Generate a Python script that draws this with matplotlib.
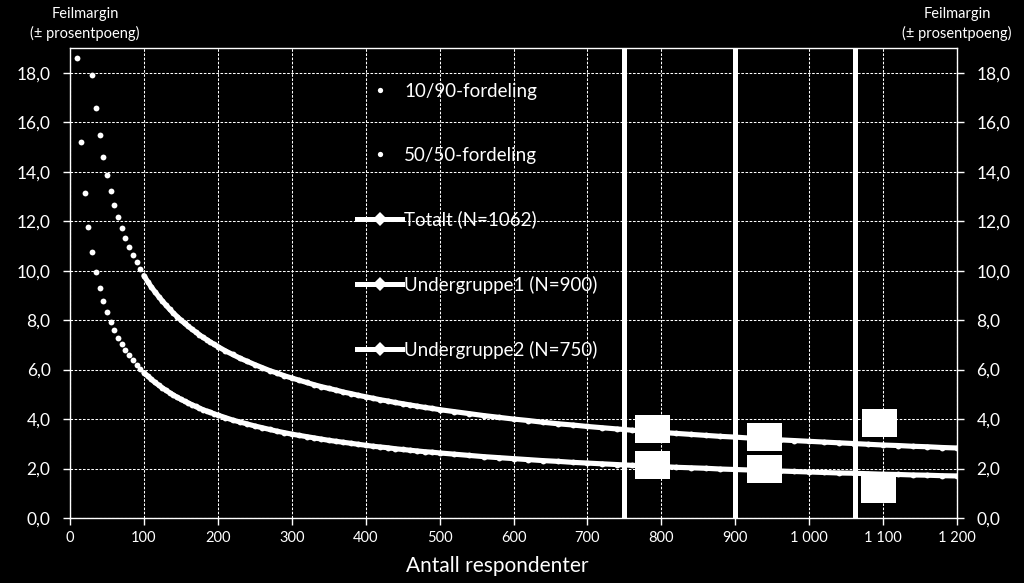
import matplotlib
matplotlib.use("Agg")
import matplotlib.pyplot as plt
from matplotlib.lines import Line2D
import numpy as np

# ---------------- data ----------------
respondents = [10, 15, 20, 25, 30, 35, 40, 45, 50, 55, 60, 65, 70, 75, 80, 85, 90, 95,
               100, 105, 110, 115, 120, 125, 130, 135, 140, 145, 150, 155, 160, 165,
               170, 175, 180, 185, 190, 195, 200,
               210, 220, 230, 240, 250, 260, 270, 280, 290, 300, 310, 320, 330, 340,
               350, 360, 370, 380, 390, 400, 410, 420, 430, 440, 450, 460, 470, 480,
               490, 500,
               520, 540, 560, 580, 600, 620, 640, 660, 680, 700, 720, 740, 760, 780,
               800, 820, 840, 860, 880, 900, 920, 940, 960, 980, 1000, 1020, 1040,
               1060, 1080, 1100, 1120, 1140, 1160, 1180, 1200]

margin_10_90 = [18.59, 15.18, 13.15, 11.76, 10.74, 9.94, 9.30, 8.77, 8.32, 7.93, 7.59,
                7.29, 7.03, 6.79, 6.57, 6.38, 6.20, 6.03, 5.88, 5.74, 5.61, 5.48, 5.37,
                5.26, 5.16, 5.06, 4.97, 4.88, 4.80, 4.72, 4.65, 4.58, 4.51, 4.44, 4.38,
                4.32, 4.27, 4.21, 4.16,
                4.06, 3.96, 3.88, 3.80, 3.72, 3.65, 3.58, 3.51, 3.45, 3.39, 3.34, 3.29,
                3.24, 3.19, 3.14, 3.10, 3.06, 3.02, 2.98, 2.94, 2.90, 2.87, 2.84, 2.80,
                2.77, 2.74, 2.71, 2.68, 2.66, 2.63,
                2.58, 2.53, 2.48, 2.44, 2.40, 2.36, 2.32, 2.29, 2.25, 2.22, 2.19, 2.16,
                2.13, 2.11, 2.08, 2.05, 2.03, 2.01, 1.98, 1.96, 1.94, 1.92, 1.90, 1.88,
                1.86, 1.84, 1.82, 1.81, 1.79, 1.77, 1.76, 1.74, 1.73, 1.71, 1.70]

nan = float("nan")
margin_50_50 = [nan, nan, nan, nan, 17.89, 16.57, 15.50, 14.61, 13.86, 13.21, 12.65,
                12.16, 11.71, 11.32, 10.96, 10.63, 10.33, 10.05, 9.80, 9.56, 9.34, 9.14,
                8.95, 8.77, 8.60, 8.43, 8.28, 8.14, 8.00, 7.87, 7.75, 7.63, 7.52, 7.41,
                7.30, 7.21, 7.11, 7.02, 6.93,
                6.76, 6.61, 6.46, 6.33, 6.20, 6.08, 5.96, 5.86, 5.75, 5.66, 5.57, 5.48,
                5.39, 5.31, 5.24, 5.17, 5.09, 5.03, 4.96, 4.90, 4.84, 4.78, 4.73, 4.67,
                4.62, 4.57, 4.52, 4.47, 4.43, 4.38,
                4.30, 4.22, 4.14, 4.07, 4.00, 3.94, 3.87, 3.81, 3.76, 3.70, 3.65, 3.60,
                3.55, 3.51, 3.46, 3.42, 3.38, 3.34, 3.30, 3.27, 3.23, 3.20, 3.16, 3.13,
                3.10, 3.07, 3.04, 3.01, 2.98, 2.95, 2.93, 2.90, 2.88, 2.85, 2.83]

series_names = ["10/90-fordeling", "50/50-fordeling"]
group_names = ["Totalt (N=1062)", "Undergruppe1 (N=900)", "Undergruppe2 (N=750)"]
group_sizes = [1062, 900, 750]

label_box_x_upper = [788, 939, 1095]
label_box_y_upper = [3.59, 3.27, 3.84]
label_box_x_lower = [788, 939, 1093]
label_box_y_lower = [2.14, 1.98, 1.18]

x_ticks = [0, 100, 200, 300, 400, 500, 600, 700, 800, 900, 1000, 1100, 1200]
y_ticks = [0, 2, 4, 6, 8, 10, 12, 14, 16, 18]
x_label = "Antall respondenter"
y_label = "Feilmargin\n(± prosentpoeng)"

# ---------------- style ----------------
FONT = ["Lato", "DejaVu Sans"]
plt.rcParams["font.family"] = FONT
W = "white"

fig = plt.figure(figsize=(10.24, 5.83), dpi=100, facecolor="black")
ax = fig.add_axes([70 / 1024, 65 / 583, 887 / 1024, 470 / 583], facecolor="black")

n = np.array(respondents, dtype=float)
grid_ls = (0, (2.5, 1.5))

# gridlines
ax.set_axisbelow(True)
ax.grid(True, color=W, linestyle=grid_ls, linewidth=0.75)

# curves
for vals in (margin_10_90, margin_50_50):
    y = np.array(vals, dtype=float)
    dense = n >= 100
    ax.plot(n[dense], y[dense], "-", color=W, lw=3.7, solid_capstyle="round",
            solid_joinstyle="round", zorder=3)
    ax.plot(n, y, "o", color=W, ms=4.2, markeredgewidth=0, zorder=3)

# vertical group lines
for g in group_sizes:
    ax.axvline(g, color=W, lw=3.6, zorder=4)

# label boxes
box = [(-1.25, -1), (1.25, -1), (1.25, 1), (-1.25, 1), (-1.25, -1)]
ax.plot(label_box_x_upper, label_box_y_upper, ls="none", marker=box, ms=25.2,
        color=W, markeredgewidth=0, zorder=5)
ax.plot(label_box_x_lower, label_box_y_lower, ls="none", marker=box, ms=25.2,
        color=W, markeredgewidth=0, zorder=5)

ax.set_xlim(0, 1200)
ax.set_ylim(0, 19)
ax.set_xticks(x_ticks)
ax.set_yticks(y_ticks)
ax.set_xticklabels([f"{v:,}".replace(",", " ") for v in x_ticks])
ax.set_yticklabels([f"{v:.1f}".replace(".", ",") for v in y_ticks])

for s in ax.spines.values():
    s.set_color(W)
    s.set_linewidth(1.0)

ax.tick_params(axis="x", colors=W, labelsize=10.5, length=5, width=1, pad=4,
               direction="out")
ax.tick_params(axis="y", colors=W, labelsize=12.5, length=5, width=1, pad=9,
               direction="out", right=True, labelright=True)

# axis titles
fig.text(497 / 1024, 1 - 566 / 583, x_label, color=W, fontsize=15,
         ha="center", va="center")
for cx in (85, 957):
    fig.text(cx / 1024, 1 - 24 / 583, y_label, color=W, fontsize=10.5,
             ha="center", va="center", linespacing=1.35)

# legend
handles = [
    Line2D([], [], ls="none", marker="o", ms=3.8, color=W, markeredgewidth=0),
    Line2D([], [], ls="none", marker="o", ms=3.8, color=W, markeredgewidth=0),
]
for _ in group_names:
    handles.append(Line2D([], [], color=W, lw=3.6, marker="D", ms=7,
                          markeredgewidth=0))
leg = ax.legend(handles, series_names + group_names, loc="upper left",
                bbox_to_anchor=(357 / 1024, 1 - 83 / 583),
                bbox_transform=fig.transFigure, frameon=False, fontsize=13.5,
                labelcolor=W, handlelength=2.4, handletextpad=0.12,
                labelspacing=2.5, borderpad=0, borderaxespad=0)

fig.savefig("out.png", dpi=100, facecolor="black")
